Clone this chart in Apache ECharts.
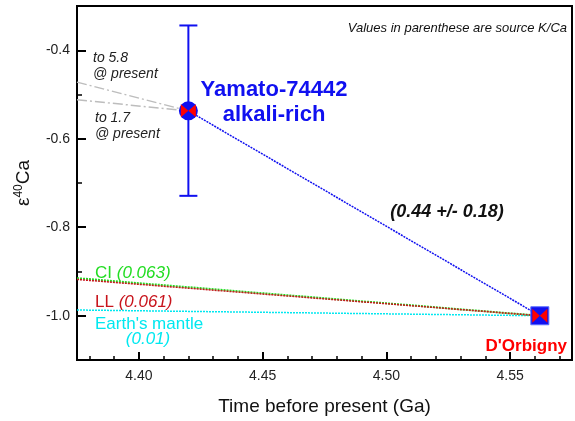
<!DOCTYPE html>
<html><head><meta charset="utf-8">
<script src="https://cdn.jsdelivr.net/npm/echarts@6/dist/echarts.min.js"></script>
<style>html,body{margin:0;padding:0;background:#fff}#c{width:575px;height:421px}</style>
</head><body><div id="c"></div>
<script>
// ---- data ----
var xMajorTicks = [4.40, 4.45, 4.50, 4.55];
var xMinorTicks = [4.38, 4.39, 4.41, 4.42, 4.43, 4.44, 4.46, 4.47, 4.48, 4.49, 4.51, 4.52, 4.53, 4.54, 4.56, 4.57];
var yMajorTicks = [-1.0, -0.8, -0.6, -0.4];
var yMinorTicks = [-0.9, -0.7, -0.5];
var yamato = [4.42, -0.537];
var yamatoErr = [4.42, -0.729, -0.344];
var dorbigny = [4.562, -1.0];
var ciLine = [[4.375, -0.915], [4.562, -1.0]];
var llLine = [[4.375, -0.918], [4.562, -1.0]];
var mantleLine = [[4.375, -0.987], [4.562, -1.0]];
var present58 = [[4.375, -0.472], [4.42, -0.537]];
var present17 = [[4.375, -0.512], [4.42, -0.537]];
var slopeLine = [yamato, dorbigny];

var BLUE = '#1010f0', RED = '#ff0000', GREEN = '#22dd22', DARKRED = '#c8141c', CYAN = '#00e8f0';
var FONT = 'Liberation Sans, Arial, sans-serif';
var bowtie = 'path://M0,0 L10,10 L0,20 Z M20,0 L10,10 L20,20 Z';

var chart = echarts.init(document.getElementById('c'));
chart.setOption({
  animation: false,
  textStyle: {fontFamily: FONT},
  grid: {left: 77, right: 3, top: 6, bottom: 59, show: true, borderColor: '#000', borderWidth: 2, containLabel: false},
  xAxis: [{
    type: 'value', min: 4.375, max: 4.575, position: 'bottom',
    name: 'Time before present (Ga)', nameLocation: 'middle', nameGap: 37,
    nameTextStyle: {fontSize: 19, color: '#111', fontFamily: FONT},
    axisLine: {show: true, lineStyle: {color: '#000', width: 2}},
    axisTick: {show: true, inside: true, length: 8, customValues: xMajorTicks, lineStyle: {color: '#000', width: 2}},
    axisLabel: {customValues: xMajorTicks, fontSize: 14, color: '#222', margin: 9, fontFamily: FONT,
      formatter: function (v) { return v.toFixed(2); }},
    splitLine: {show: false}
  }, {
    type: 'value', min: 4.375, max: 4.575, position: 'bottom',
    axisLine: {show: false},
    axisTick: {show: true, inside: true, length: 4, customValues: xMinorTicks, lineStyle: {color: '#000', width: 1.5}},
    axisLabel: {show: false}, splitLine: {show: false}
  }],
  yAxis: [{
    type: 'value', min: -1.1, max: -0.3, position: 'left',
    name: '{e|ε}{s|40}{e|Ca}', nameLocation: 'middle', nameGap: 42, nameRotate: 90,
    nameTextStyle: {fontSize: 19, color: '#111', fontFamily: FONT,
      rich: {e: {fontSize: 19, fontFamily: FONT, color: '#111'},
             s: {fontSize: 12, fontFamily: FONT, color: '#111', padding: [0, 0, 10, 0]}}},
    axisLine: {show: true, lineStyle: {color: '#000', width: 2}},
    axisTick: {show: true, inside: true, length: 9, customValues: yMajorTicks, lineStyle: {color: '#000', width: 2}},
    axisLabel: {customValues: yMajorTicks, fontSize: 14, color: '#222', margin: 7, fontFamily: FONT,
      formatter: function (v) { return v.toFixed(1); }},
    splitLine: {show: false}
  }, {
    type: 'value', min: -1.1, max: -0.3, position: 'left',
    axisLine: {show: false},
    axisTick: {show: true, inside: true, length: 5, customValues: yMinorTicks, lineStyle: {color: '#000', width: 1.5}},
    axisLabel: {show: false}, splitLine: {show: false}
  }],
  series: [
    {type: 'line', data: mantleLine, symbol: 'none', lineStyle: {color: CYAN, width: 1.5, type: [2, 1]}, z: 2},
    {type: 'line', data: ciLine, symbol: 'none', lineStyle: {color: GREEN, width: 2, type: [2, 1]}, z: 2},
    {type: 'line', data: llLine, symbol: 'none', lineStyle: {color: DARKRED, width: 1.5, type: [2, 1]}, z: 3},
    {type: 'line', data: present58, symbol: 'none', lineStyle: {color: '#bdbdbd', width: 1.5, type: [10, 3, 2, 3]}, z: 2},
    {type: 'line', data: present17, symbol: 'none', lineStyle: {color: '#bdbdbd', width: 1.5, type: [10, 3, 2, 3]}, z: 2},
    {type: 'line', data: slopeLine, symbol: 'none', lineStyle: {color: BLUE, width: 1.5, type: [2, 1]}, z: 3},
    {type: 'custom', data: [yamatoErr], z: 4, clip: true,
      renderItem: function (params, api) {
        var top = api.coord([api.value(0), api.value(2)]);
        var bot = api.coord([api.value(0), api.value(1)]);
        var hw = 9;
        var st = {stroke: BLUE, lineWidth: 2};
        return {type: 'group', children: [
          {type: 'line', shape: {x1: top[0], y1: top[1], x2: bot[0], y2: bot[1]}, style: st},
          {type: 'line', shape: {x1: top[0] - hw, y1: top[1], x2: top[0] + hw, y2: top[1]}, style: st},
          {type: 'line', shape: {x1: bot[0] - hw, y1: bot[1], x2: bot[0] + hw, y2: bot[1]}, style: st}
        ]};
      }},
    {type: 'scatter', data: [yamato], symbol: 'circle', symbolSize: 19, itemStyle: {color: BLUE, opacity: 1}, z: 5},
    {type: 'scatter', data: [yamato], symbol: bowtie, symbolSize: [15, 13], itemStyle: {color: RED, opacity: 1}, z: 6},
    {type: 'scatter', data: [dorbigny], symbol: 'rect', symbolSize: 18, itemStyle: {color: BLUE, opacity: 1, borderColor: '#5a6cff', borderWidth: 1}, z: 5},
    {type: 'scatter', data: [dorbigny], symbol: bowtie, symbolSize: [15, 14], itemStyle: {color: RED, opacity: 1}, z: 6}
  ],
  graphic: [
    {type: 'text', x: 567, y: 28, style: {text: 'Values in parenthese are source K/Ca', font: 'italic 13px ' + FONT, fill: '#111', align: 'right', verticalAlign: 'middle'}},
    {type: 'text', x: 274, y: 90, style: {text: 'Yamato-74442', font: 'bold 22px ' + FONT, fill: BLUE, align: 'center', verticalAlign: 'middle'}},
    {type: 'text', x: 274, y: 115, style: {text: 'alkali-rich', font: 'bold 22px ' + FONT, fill: BLUE, align: 'center', verticalAlign: 'middle'}},
    {type: 'text', x: 447, y: 212, style: {text: '(0.44 +/- 0.18)', font: 'italic bold 18px ' + FONT, fill: '#111', align: 'center', verticalAlign: 'middle'}},
    {type: 'text', x: 567, y: 346, style: {text: "D'Orbigny", font: 'bold 17px ' + FONT, fill: RED, align: 'right', verticalAlign: 'middle'}},
    {type: 'text', x: 93, y: 58, style: {text: 'to 5.8', font: 'italic 14px ' + FONT, fill: '#222', verticalAlign: 'middle'}},
    {type: 'text', x: 93, y: 74, style: {text: '@ present', font: 'italic 14px ' + FONT, fill: '#222', verticalAlign: 'middle'}},
    {type: 'text', x: 95, y: 118, style: {text: 'to 1.7', font: 'italic 14px ' + FONT, fill: '#222', verticalAlign: 'middle'}},
    {type: 'text', x: 95, y: 134, style: {text: '@ present', font: 'italic 14px ' + FONT, fill: '#222', verticalAlign: 'middle'}},
    {type: 'text', x: 95, y: 273, style: {text: '{n|CI }{i|(0.063)}', verticalAlign: 'middle',
      rich: {n: {font: '17px ' + FONT, fill: GREEN}, i: {font: 'italic 17px ' + FONT, fill: GREEN}}}},
    {type: 'text', x: 95, y: 302, style: {text: '{n|LL }{i|(0.061)}', verticalAlign: 'middle',
      rich: {n: {font: '17px ' + FONT, fill: DARKRED}, i: {font: 'italic 17px ' + FONT, fill: DARKRED}}}},
    {type: 'text', x: 95, y: 324, style: {text: "Earth's mantle", font: '17px ' + FONT, fill: CYAN, verticalAlign: 'middle'}},
    {type: 'text', x: 148, y: 339, style: {text: '(0.01)', font: 'italic 17px ' + FONT, fill: CYAN, align: 'center', verticalAlign: 'middle'}}
  ]
});
</script>
</body></html>
